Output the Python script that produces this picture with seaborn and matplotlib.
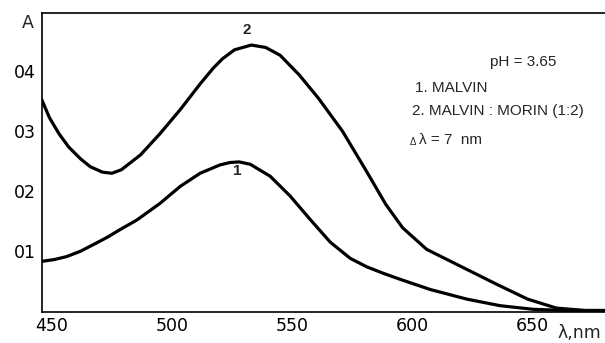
import matplotlib
matplotlib.use("Agg")
import matplotlib.pyplot as plt
import seaborn as sns
import pandas as pd

# ---- data ----
wl_malvin_morin = [445.8, 449, 453, 457, 462, 466, 471, 475, 479, 487, 495, 503.4, 511.7, 517.3, 521,
                   526, 533, 539, 545, 553, 561, 571, 581, 589, 596, 606, 621, 635, 648, 660, 672, 680]
abs_malvin_morin = [0.352, 0.322, 0.295, 0.273, 0.253, 0.240, 0.231, 0.229, 0.235, 0.260, 0.295, 0.335, 0.378,
                    0.405, 0.420, 0.435, 0.443, 0.439, 0.426, 0.393, 0.354, 0.299, 0.232, 0.177, 0.138, 0.102,
                    0.072, 0.044, 0.019, 0.004, 0.0, 0.0]
wl_malvin = [445.8, 451, 456.2, 462, 467.3, 473, 478.4, 485.4, 495.1, 503.4, 511.7, 520, 524.2, 528, 532.6,
             540.9, 549.2, 557.5, 565.9, 574.2, 581, 588, 595, 607.5, 622.7, 636.6, 650.3, 664, 680]
abs_malvin = [0.082, 0.085, 0.090, 0.099, 0.110, 0.122, 0.135, 0.151, 0.179, 0.207, 0.229, 0.243, 0.247, 0.248,
              0.244, 0.224, 0.191, 0.152, 0.114, 0.087, 0.073, 0.062, 0.052, 0.035, 0.019, 0.008, 0.002, 0.0, 0.0]
x_ticks = [450, 500, 550, 600, 650]
x_tick_labels = ["450", "500", "550", "600", "650"]
y_ticks = [0.1, 0.2, 0.3, 0.4]
y_tick_labels = ["01", "02", "03", "04"]

df = pd.concat([
    pd.DataFrame({"wl": wl_malvin_morin, "A": abs_malvin_morin, "s": "2"}),
    pd.DataFrame({"wl": wl_malvin, "A": abs_malvin, "s": "1"}),
])

sns.set_style("white")
plt.rcParams["font.family"] = ["Liberation Sans", "DejaVu Sans"]

fig = plt.figure(figsize=(6.05, 3.43), dpi=100)
ax = fig.add_axes([41.7 / 605, 1 - 311.7 / 343, 1 - 41.7 / 605, (311.7 - 13.3) / 343])

sns.lineplot(data=df, x="wl", y="A", units="s", estimator=None, color="black",
             linewidth=2.3, sort=False, ax=ax, legend=False)

ax.set_xlim(445.8, 680.2)
ax.set_ylim(-0.002, 0.496)
ax.set_xticks(x_ticks)
ax.set_xticklabels(x_tick_labels, fontfamily="DejaVu Sans")
ax.set_yticks(y_ticks)
ax.set_yticklabels(y_tick_labels, fontfamily="DejaVu Sans")
ax.tick_params(direction="in", length=8, width=1.0, labelsize=12.5, colors="black", pad=4)
ax.set_xlabel("")
ax.set_ylabel("")
for side in ["left", "bottom", "top"]:
    ax.spines[side].set_color("black")
    ax.spines[side].set_linewidth(1.2)
ax.spines["right"].set_visible(False)

ax.text(531, 0.468, "2", fontsize=11, ha="center", va="center", fontweight="bold")
ax.text(527, 0.232, "1", fontsize=11, ha="center", va="center", fontweight="bold")

fig.text(28 / 605, 1 - 23 / 343, "A", fontsize=12.5, ha="center", va="center", family="DejaVu Sans")
fig.text(579 / 605, 1 - 333 / 343, "λ,nm", fontsize=12.5, ha="center", va="center", family="DejaVu Sans")

fs = 11
fig.text(490 / 605, 1 - 61.7 / 343, "pH = 3.65", fontsize=fs, ha="left", va="center")
fig.text(415 / 605, 1 - 88.3 / 343, "1. MALVIN", fontsize=fs, ha="left", va="center")
fig.text(411.7 / 605, 1 - 110.7 / 343, "2. MALVIN : MORIN (1:2)", fontsize=fs, ha="left", va="center")
fig.text(410 / 605, 1 - 142 / 343, "Δ", fontsize=7, ha="left", va="center")
fig.text(419 / 605, 1 - 140 / 343, "λ = 7  nm", fontsize=fs, ha="left", va="center")

fig.savefig("out.png", dpi=100)
